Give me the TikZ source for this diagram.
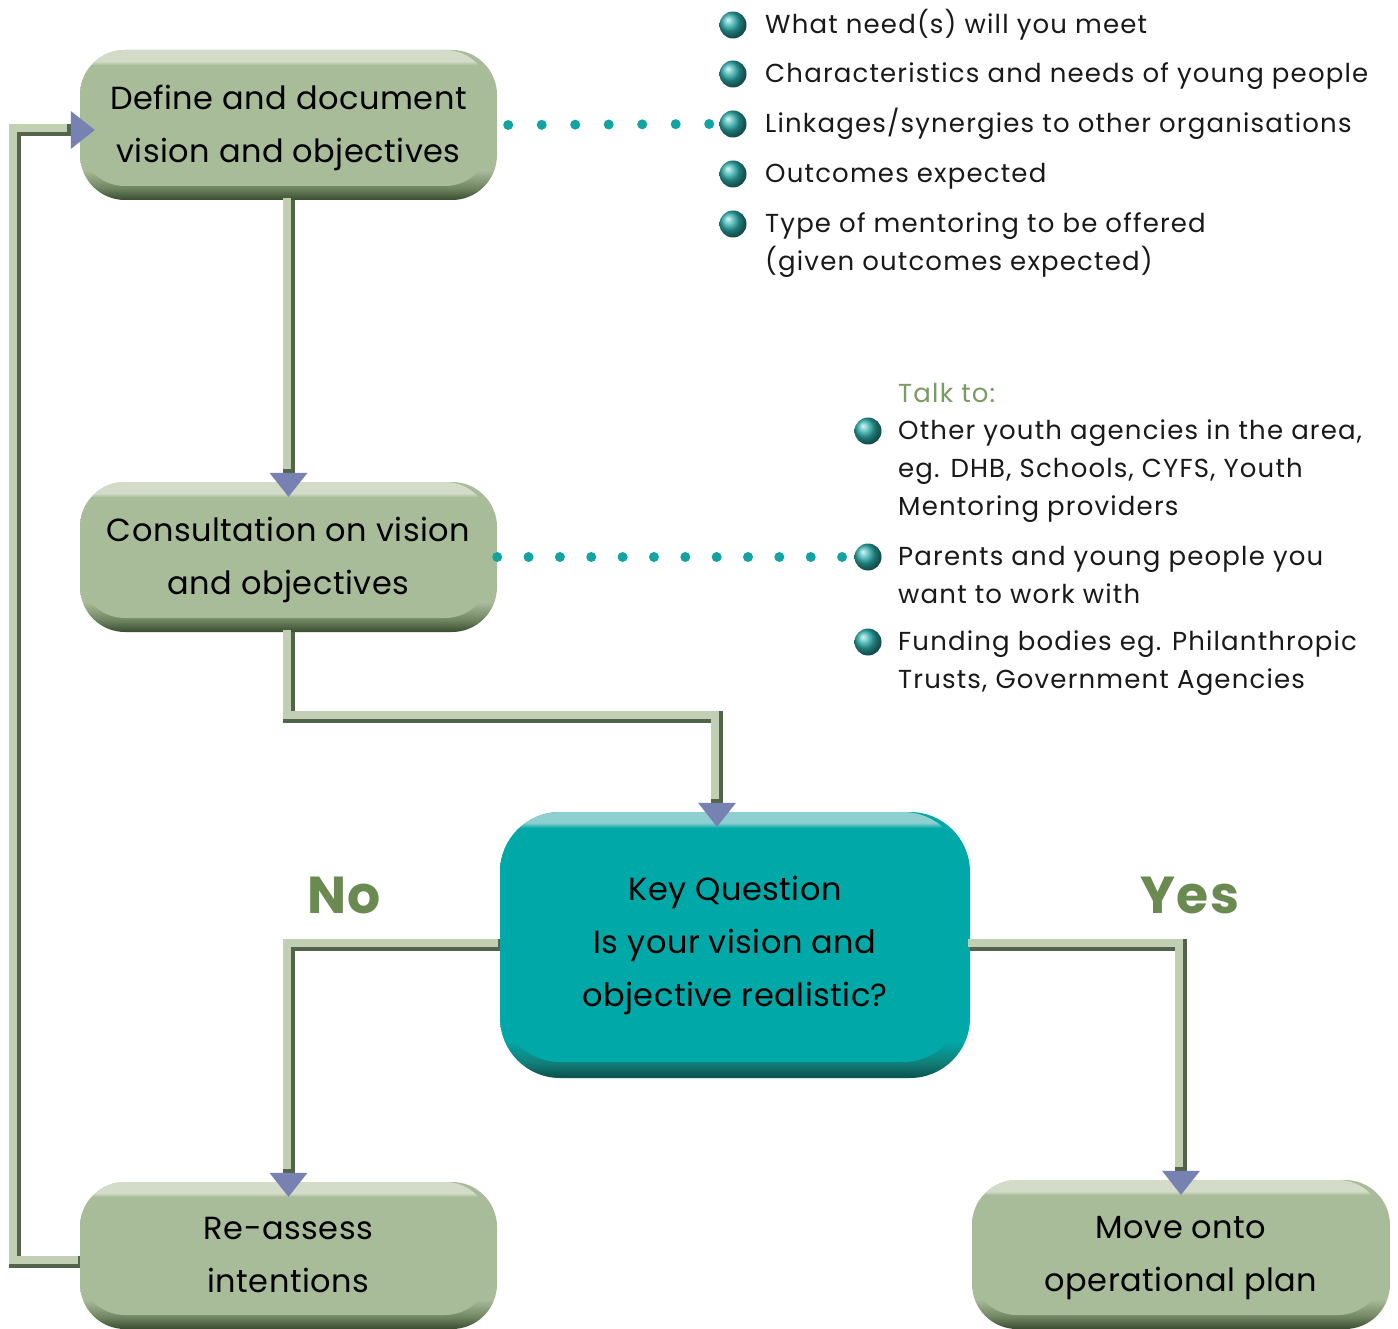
\documentclass[tikz,border=0pt]{standalone}
\usepackage{fontspec}
\setmainfont{Poppins}
\usetikzlibrary{arrows.meta}
\definecolor{gmain}{HTML}{A9BC99}
\definecolor{glight}{HTML}{D3DBC9}
\definecolor{gdark}{HTML}{3A4C30}
\definecolor{gmid}{HTML}{6F8461}
\definecolor{kmain}{HTML}{00A8A8}
\definecolor{klight}{HTML}{8FCFCF}
\definecolor{kdark}{HTML}{0A514C}
\definecolor{kmid}{HTML}{127F7A}
\definecolor{clight}{HTML}{C2CFB5}
\definecolor{cdark}{HTML}{52654A}
\definecolor{tipc}{HTML}{7782B2}
\definecolor{dotc}{HTML}{14A3A3}
\definecolor{bulc}{HTML}{2CAEAB}
\definecolor{talkc}{HTML}{7C9A66}
\definecolor{ync}{HTML}{6B8A52}
% shadings: TikZ maps 25bp..75bp onto the path's height
\pgfdeclareverticalshading{gsh}{100bp}{color(0bp)=(gmain); color(70bp)=(gmain); color(71.2bp)=(glight); color(100bp)=(glight)}
\pgfdeclareverticalshading{gout}{100bp}{color(0bp)=(gdark); color(25bp)=(gdark); color(29bp)=(gmid); color(35bp)=(gmain); color(100bp)=(gmain)}
\pgfdeclareverticalshading{ksh}{100bp}{color(0bp)=(kmain); color(72bp)=(kmain); color(73bp)=(klight); color(100bp)=(klight)}
\pgfdeclareverticalshading{kout}{100bp}{color(0bp)=(kdark); color(25bp)=(kdark); color(28bp)=(kmid); color(32bp)=(kmain); color(100bp)=(kmain)}
\newcommand\boxfont{\fontsize{32}{53}\selectfont\addfontfeatures{LetterSpace=1.5}}
\newcommand\itemfont{\fontsize{26}{38}\selectfont\addfontfeatures{LetterSpace=4.5}}
\begin{document}
\begin{tikzpicture}[x=1pt,y=-1pt,
  gbox/.style={rounded corners=45pt, shade, shading=gout, inner sep=0pt, align=center,
    font=\boxfont, text=black, minimum width=417pt, minimum height=150pt,
    path picture={\shade[shading=gsh, rounded corners=45pt]
      ([shift={(0pt,14pt)}]path picture bounding box.south west) rectangle
      ([shift={(-7pt,0pt)}]path picture bounding box.north east);}},
  kbox/.style={rounded corners=60pt, shade, shading=kout, inner sep=0pt, align=center,
    font=\boxfont, text=black,
    path picture={\shade[shading=ksh, rounded corners=60pt]
      ([shift={(0pt,16pt)}]path picture bounding box.south west) rectangle
      ([shift={(-7pt,0pt)}]path picture bounding box.north east);}},
  conn/.style={line width=12pt, draw=cdark,
    -{Triangle[width=38pt,length=24pt,line width=0pt,fill=tipc,color=tipc]},
    shorten >=-15pt,
    postaction={draw=clight, line width=8pt, arrows=-, shorten >=11pt,
      transform canvas={shift={(-2pt,2pt)}}}},
  bul/.style={circle, minimum size=27pt, inner sep=0pt, shading=ball, ball color=bulc},
  item/.style={anchor=north west, inner sep=0pt, align=left, font=\itemfont, text=black!90},
  dotsA/.style={line width=10pt, draw=dotc, line cap=round, dash pattern=on 0pt off 33.5pt},
  dotsB/.style={line width=10pt, draw=dotc, line cap=round, dash pattern=on 0pt off 31.35pt},
  yn/.style={font=\fontsize{52}{58}\selectfont\bfseries\addfontfeatures{LetterSpace=3}, text=ync, inner sep=0pt}
]
\useasboundingbox (0,0) rectangle (1398,1329);

% boxes
\node[gbox] (b1) at (288.5,125) {\strut Define and document\\vision and objectives\strut};
\node[gbox] (b2) at (288.5,557) {\strut Consultation on vision\\and objectives\strut};
\node[kbox, minimum width=470pt, minimum height=266pt] (k) at (735,945) {Key Question\\Is your vision and\\objective realistic?};
\node[gbox, minimum height=147pt] (r) at (288.5,1255.5) {\strut Re-assess\\intentions\strut};
\node[gbox, minimum width=418pt, minimum height=149pt] (m) at (1181,1254.5) {\strut Move onto\\operational plan\strut};

% connectors
\draw[conn] (b1.south) -- (b2.north);
\draw[conn] (b2.south) -- ++(0,85) -| ([xshift=-18pt]k.north);
\draw[conn] (k.west) -| (r.north);
\draw[conn] (k.east) -| (m.north);
\draw[conn] ([yshift=-6pt]r.west) -- ++(-65,0) |- ([yshift=-5pt]b1.west);

% labels
\node[yn] (no) at (344,895) {No};
\node[yn] (yes) at (1190,895) {Yes};

% first list
\node[bul] (u1) at (733,25) {};
\node[bul] (u2) at (733,74) {};
\node[bul] (u3) at (733,124) {};
\node[bul] (u4) at (733,174) {};
\node[bul] (u5) at (733,224) {};
\node[item] (t1) at (765,7.15) {\strut What need(s) will you meet};
\node[item] (t2) at (765,56.15) {\strut Characteristics and needs of young people};
\node[item] (t3) at (765,106.15) {\strut Linkages/synergies to other organisations};
\node[item] (t4) at (765,156.15) {\strut Outcomes expected};
\node[item] (t5) at (765,206.15) {\strut Type of mentoring to be offered\\(given outcomes expected)};

% second list
\node[item, text=talkc] (talk) at (898,376.15) {\strut Talk to:};
\node[bul] (v1) at (868,431) {};
\node[bul] (v2) at (868,557) {};
\node[bul] (v3) at (868,642) {};
\node[item] (s1) at (898,413.15) {\strut Other youth agencies in the area,\\eg. DHB, Schools, CYFS, Youth\\Mentoring providers};
\node[item] (s2) at (898,539.15) {\strut Parents and young people you\\want to work with};
\node[item] (s3) at (898,624.15) {\strut Funding bodies eg. Philanthropic\\Trusts, Government Agencies};

% dotted links
\draw[dotsA] ([xshift=11pt]b1.east) -- ([xshift=-10pt]u3.west);
\draw[dotsB] (b2.east) -- ([xshift=-12pt]v2.west);
\end{tikzpicture}
\end{document}
